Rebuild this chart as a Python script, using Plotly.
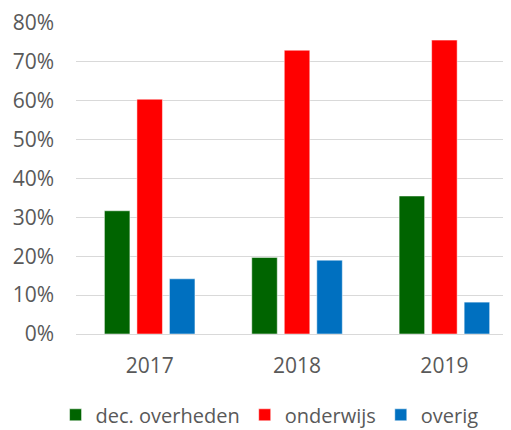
import plotly.graph_objects as go

years = ["2017", "2018", "2019"]
dec_overheden = [0.317, 0.197, 0.355]
onderwijs = [0.604, 0.730, 0.756]
overig = [0.142, 0.190, 0.082]

series_names = ["dec. overheden", "onderwijs", "overig"]
colors = ["#006400", "#FF0000", "#0070C0"]

fig = go.Figure()
for name, vals, col in zip(series_names, [dec_overheden, onderwijs, overig], colors):
    fig.add_trace(go.Bar(
        x=years, y=vals, name=name,
        marker=dict(color=col, line=dict(color="rgba(255,255,255,0.5)", width=1)),
    ))

# the page body has an 8px default margin, so the figure is drawn 8px smaller
font_fam = "Open Sans, Liberation Sans, sans-serif"
fig.update_layout(
    width=503, height=422,
    margin=dict(l=68, r=0, t=15, b=96),
    paper_bgcolor="white", plot_bgcolor="white",
    barmode="group", bargap=0.338, bargroupgap=0.215,
    font=dict(family=font_fam, size=21, color="#595959"),
    xaxis=dict(type="category", range=[-0.5, 2.452], showgrid=False, showline=False,
               ticks="", automargin=False, ticklabelstandoff=17,
               tickfont=dict(size=21, color="#595959")),
    yaxis=dict(range=[0, 0.8], dtick=0.1, tickformat=".0%", showgrid=True,
               gridcolor="#D9D9D9", gridwidth=1.3, zeroline=True, zerolinecolor="#D9D9D9",
               zerolinewidth=1.3, showline=False, ticks="", ticklabelstandoff=21,
               automargin=False,
               tickfont=dict(size=21, color="#595959")),
    legend=dict(orientation="h", xref="container", yref="container",
                x=0.52, xanchor="center", y=0.036, yanchor="middle",
                font=dict(size=20, color="#595959"), itemwidth=30,
                traceorder="normal"),
    showlegend=True,
)

fig.write_html("out.html")
